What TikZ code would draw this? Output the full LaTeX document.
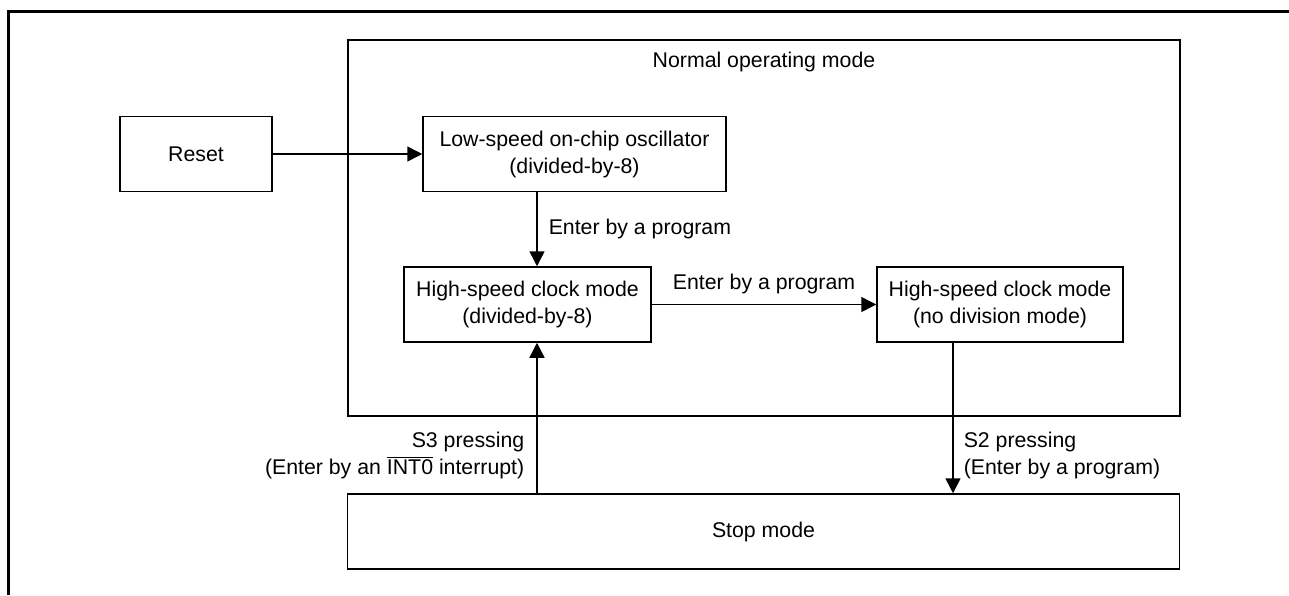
\documentclass[tikz,border=0pt]{standalone}
\usepackage{fontspec}
\setmainfont{Liberation Sans}
\usetikzlibrary{arrows.meta}

\begin{document}
\begin{tikzpicture}[x=0.5pt,y=-0.5pt,font=\fontsize{10.65}{13.5}\selectfont]
\tikzset{modebox/.style = {shape=rectangle,draw,line width=0.75pt,align=center,minimum height=37.5pt,inner sep=0pt}}
\tikzset{edge/.style = {-{Triangle[length=7.5pt,width=7.5pt]},line width=0.75pt}}
\tikzset{lbl/.style = {inner sep=0pt}}
\useasboundingbox (0,0) rectangle (1289,595);
\draw[line width=1.5pt] (8,595) -- (8,11) -- (1289,11);
\node[modebox,minimum width=416pt,minimum height=188pt] (normal) at (764,228) {};
\node[lbl] (normaltitle) at (764,62) {Normal operating mode};
\node[modebox,minimum width=76pt] (reset) at (196,154) {Reset};
\node[modebox,minimum width=151.5pt] (lowspeed) at (574.5,154) {Low-speed on-chip oscillator\\(divided-by-8)};
\node[modebox,minimum width=123.5pt] (highdiv) at (527.5,304.5) {High-speed clock mode\\(divided-by-8)};
\node[modebox,minimum width=123pt] (highnodiv) at (1000,304.5) {High-speed clock mode\\(no division mode)};
\node[modebox,minimum width=416pt] (stop) at (763.5,531.5) {Stop mode};
\draw[edge] (reset) to (lowspeed);
\draw[edge] ([xshift=-18.75pt]lowspeed.south) to node[lbl,midway,right=5.5pt] {Enter by a program} ([xshift=4.75pt]highdiv.north);
\draw[edge] (highdiv) to node[lbl,midway,above=4.75pt] {Enter by a program} (highnodiv);
\draw[edge] ([xshift=-23.5pt]highnodiv.south) to node[lbl,pos=0.75,right=5pt,align=left] {S2 pressing\\(Enter by a program)} ([xshift=94.75pt]stop.north);
\draw[edge] ([xshift=-113.25pt]stop.north) to node[lbl,pos=0.25,left=6pt,align=right] {S3 pressing\\(Enter by an $\overline{\mbox{INT0}}$ interrupt)} ([xshift=4.75pt]highdiv.south);
\end{tikzpicture}
\end{document}
